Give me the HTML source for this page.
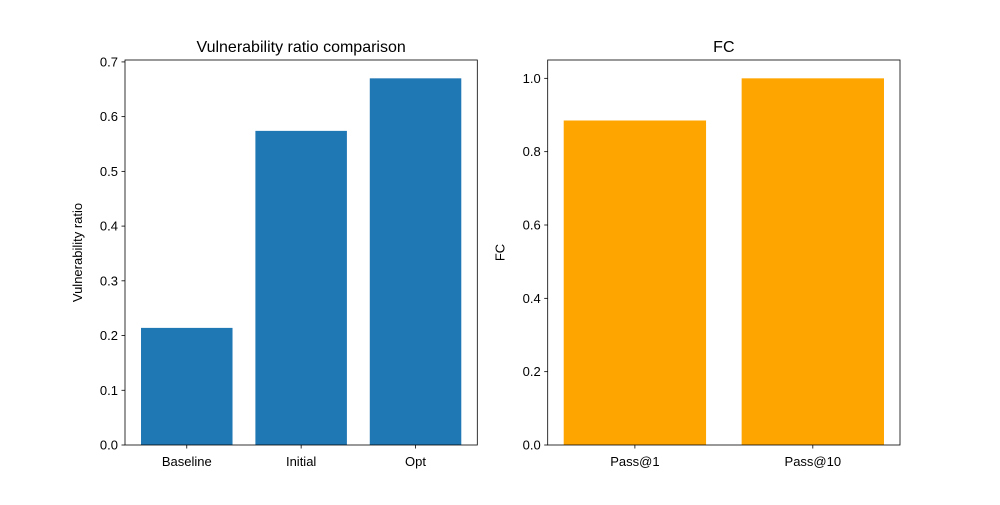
<!DOCTYPE html>
<html><head><meta charset="utf-8"><style>
body{margin:0;background:#fff;}
svg{font-family:"Liberation Sans","DejaVu Sans",sans-serif;}
</style></head><body>
<svg id="fig" width="1000" height="500"></svg>
<script>
const leftCategories=["Baseline","Initial","Opt"];
const leftValues=[0.214,0.574,0.670];
const leftTicks=[0,0.1,0.2,0.3,0.4,0.5,0.6,0.7];
const rightCategories=["Pass@1","Pass@10"];
const rightValues=[0.885,1.0];
const rightTicks=[0,0.2,0.4,0.6,0.8,1.0];
const NS="http://www.w3.org/2000/svg";
const svg=document.getElementById('fig');
function mk(tag,attrs,parent,text){const e=document.createElementNS(NS,tag);for(const k in attrs)e.setAttribute(k,attrs[k]);if(text!==undefined)e.textContent=text;(parent||svg).appendChild(e);return e;}
function panel(x0,x1,y0,y1,cats,vals,ticks,color,title,ylabel,fmt,name){
  const g=mk('g',{});
  
  
  const n=cats.length,lo=-0.4-0.05*(n-0.2),hi=n-1+0.4+0.05*(n-0.2);
  const ymax=Math.max(...vals)*1.05;
  const sx=v=>x0+(v-lo)/(hi-lo)*(x1-x0);
  const sy=v=>y1-v/ymax*(y1-y0);
  vals.forEach((v,i)=>{
    const r=mk('rect',{x:sx(i-0.4),y:sy(v),width:sx(i+0.4)-sx(i-0.4),height:sy(0)-sy(v),fill:color},g);
    
    
    mk('line',{x1:sx(i),x2:sx(i),y1:y1,y2:y1+3.5,stroke:'#000','stroke-width':0.8},g);
    const t=mk('text',{x:sx(i),y:y1+21,'text-anchor':'middle','font-size':13},g,cats[i]);
    
    
  });
  ticks.forEach(v=>{
    mk('line',{x1:x0-3.5,x2:x0,y1:sy(v),y2:sy(v),stroke:'#000','stroke-width':0.8},g);
    const t=mk('text',{x:x0-7,y:sy(v)+4.5,'text-anchor':'end','font-size':13},g,v.toFixed(1));
    
    
  });
  mk('rect',{x:x0,y:y0,width:x1-x0,height:y1-y0,fill:'none',stroke:'#000','stroke-width':0.8},g);
  const tt=mk('text',{x:(x0+x1)/2,y:y0-8,'text-anchor':'middle','font-size':16},g,title);
  
  
  const yl=mk('text',{x:0,y:0,'text-anchor':'middle','font-size':13,transform:`translate(${x0-43},${(y0+y1)/2}) rotate(-90)`},g,ylabel);
  
  
}
panel(125,477.3,60,445,leftCategories,leftValues,leftTicks,'#1f77b4','Vulnerability ratio comparison','Vulnerability ratio','vulnerability');
panel(547.7,900,60,445,rightCategories,rightValues,rightTicks,'#ffa500','FC','FC','fc');
</script>
</body></html>
